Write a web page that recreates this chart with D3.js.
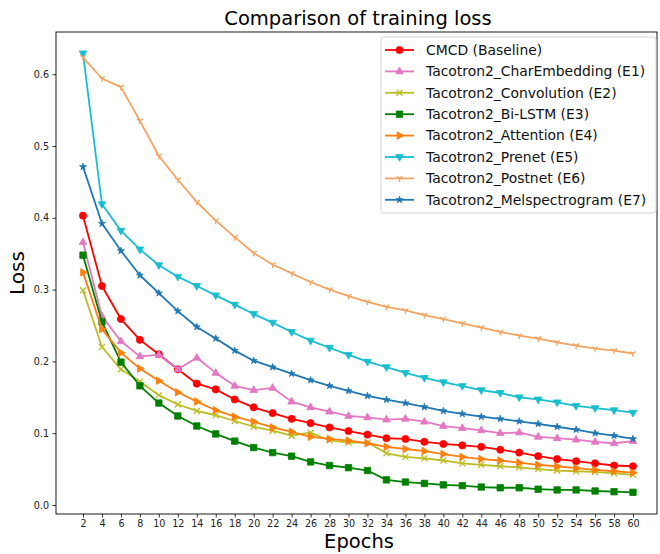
<!DOCTYPE html>
<html><head><meta charset="utf-8">
<script src="https://cdn.jsdelivr.net/npm/d3@7"></script>
<style>body{margin:0;background:#fff;}svg{display:block;font-family:"DejaVu Sans",sans-serif;}</style>
</head><body>
<svg id="c" width="660" height="554"></svg>
<script>
const epochs = d3.range(2, 61, 2);
const xTicks = epochs;
const yTicks = [0.0, 0.1, 0.2, 0.3, 0.4, 0.5, 0.6];

const cmcd = [0.403,0.305,0.259,0.230,0.210,0.189,0.169,0.161,0.147,0.136,0.128,0.120,0.114,0.108,0.103,0.098,0.093,0.092,0.088,0.085,0.083,0.081,0.077,0.073,0.068,0.064,0.061,0.058,0.055,0.054];
const charEmb = [0.366,0.263,0.228,0.207,0.209,0.189,0.205,0.184,0.166,0.160,0.163,0.144,0.136,0.130,0.124,0.122,0.119,0.120,0.116,0.110,0.107,0.104,0.100,0.101,0.095,0.093,0.091,0.088,0.086,0.089];
const conv = [0.299,0.220,0.189,0.172,0.153,0.140,0.131,0.125,0.117,0.109,0.1035,0.0965,0.1007,0.090,0.087,0.087,0.072,0.067,0.065,0.062,0.058,0.056,0.054,0.0525,0.050,0.048,0.047,0.046,0.044,0.042];
const biLstm = [0.348,0.255,0.199,0.166,0.142,0.124,0.110,0.099,0.089,0.080,0.073,0.068,0.060,0.055,0.052,0.048,0.035,0.032,0.030,0.028,0.027,0.025,0.024,0.024,0.022,0.021,0.021,0.0195,0.0185,0.0177];
const attention = [0.324,0.245,0.212,0.190,0.173,0.157,0.144,0.132,0.123,0.116,0.108,0.102,0.095,0.092,0.0896,0.086,0.081,0.078,0.075,0.071,0.067,0.064,0.062,0.059,0.056,0.054,0.0515,0.049,0.047,0.045];
const prenet = [0.629,0.419,0.382,0.356,0.334,0.318,0.305,0.292,0.279,0.266,0.254,0.241,0.229,0.219,0.209,0.1996,0.192,0.184,0.177,0.171,0.1657,0.160,0.156,0.150,0.147,0.143,0.138,0.135,0.132,0.1286];
const postnet = [0.6235,0.594,0.582,0.535,0.486,0.453,0.422,0.396,0.373,0.351,0.335,0.3226,0.3106,0.300,0.291,0.283,0.276,0.271,0.2646,0.259,0.253,0.247,0.241,0.236,0.2317,0.2266,0.222,0.2177,0.215,0.211];
const melspec = [0.471,0.392,0.354,0.320,0.295,0.270,0.248,0.232,0.215,0.201,0.192,0.183,0.174,0.166,0.159,0.152,0.1467,0.142,0.1365,0.131,0.127,0.123,0.120,0.1166,0.113,0.109,0.105,0.100,0.0965,0.092];

const seriesNames = ["CMCD (Baseline)","Tacotron2_CharEmbedding (E1)","Tacotron2_Convolution (E2)","Tacotron2_Bi-LSTM (E3)","Tacotron2_Attention (E4)","Tacotron2_Prenet (E5)","Tacotron2_Postnet (E6)","Tacotron2_Melspectrogram (E7)"];
const seriesValues = [cmcd, charEmb, conv, biLstm, attention, prenet, postnet, melspec];
const seriesColors = ["#ff0000","#e377c2","#bcbd22","#008000","#ff7f0e","#17becf","#f4a460","#1f77b4"];
const seriesMarkers = ["circle","triUp","x","square","triRight","triDown","tri","star"];

const svg = d3.select("#c");
const frame = {l:56, t:32, r:657, b:514};
const x = d3.scaleLinear().domain([2, 60]).range([83, 633]);
const y = d3.scaleLinear().domain([0, 0.6]).range([505, 74.2]);

svg.append("rect").attr("width",660).attr("height",554).attr("fill","#fff");

function markerPath(type) {
  switch(type) {
    case "circle": return d3.symbol(d3.symbolCircle, 40)();
    case "square": return "M-3.2,-3.2H3.2V3.2H-3.2Z";
    case "triUp": return "M0,-4.3L3.8,2.4L-3.8,2.4Z";
    case "triDown": return "M0,4.3L3.8,-2.4L-3.8,-2.4Z";
    case "triRight": return "M4.3,0L-2.4,3.8L-2.4,-3.8Z";
    case "star": return d3.symbol(d3.symbolStar, 15)();
    case "x": return "M-3,-3L3,3M-3,3L3,-3";
    case "tri": return "M0,0V3.5M0,0L-3,-2M0,0L3,-2";
  }
}
function isStroke(type){ return type==="x" || type==="tri"; }

const plot = svg.append("g");
const line = d3.line().x((d,i)=>x(epochs[i])).y(d=>y(d));

seriesValues.forEach((vals, k) => {
  const g = plot.append("g");
  g.append("path").attr("d", line(vals)).attr("fill","none")
    .attr("stroke", seriesColors[k]).attr("stroke-width",1.8).attr("stroke-linejoin","round");
  const m = markerPath(seriesMarkers[k]);
  g.selectAll("path.m").data(vals).join("path").attr("class","m")
    .attr("d", m)
    .attr("transform",(d,i)=>`translate(${x(epochs[i])},${y(d)})`)
    .attr("fill", isStroke(seriesMarkers[k]) ? "none" : seriesColors[k])
    .attr("stroke", seriesColors[k])
    .attr("stroke-width", isStroke(seriesMarkers[k]) ? 1.3 : 0.8);
});

// frame
svg.append("rect").attr("x",frame.l).attr("y",frame.t).attr("width",frame.r-frame.l).attr("height",frame.b-frame.t)
  .attr("fill","none").attr("stroke","#000").attr("stroke-width",0.9);

// axes
const xAxis = d3.axisBottom(x).tickValues(xTicks).tickSize(3.5).tickPadding(3).tickFormat(d3.format("d"));
const gx = svg.append("g").attr("transform",`translate(0,${frame.b})`).call(xAxis);
gx.select(".domain").remove();
gx.selectAll("text").attr("font-size",9.6).attr("font-family","DejaVu Sans").attr("fill","#222");
gx.selectAll("line").attr("stroke","#000").attr("stroke-width",0.8);

const yAxis = d3.axisLeft(y).tickValues(yTicks).tickSize(3.5).tickPadding(3.5).tickFormat(d3.format(".1f"));
const gy = svg.append("g").attr("transform",`translate(${frame.l},0)`).call(yAxis);
gy.select(".domain").remove();
gy.selectAll("text").attr("font-size",9.6).attr("font-family","DejaVu Sans").attr("fill","#222");
gy.selectAll("line").attr("stroke","#000").attr("stroke-width",0.8);

// labels
svg.append("text").attr("x",358).attr("y",25).attr("text-anchor","middle")
  .attr("font-size",19.5).text("Comparison of training loss");
svg.append("text").attr("x",359).attr("y",548).attr("text-anchor","middle")
  .attr("font-size",19.5).text("Epochs");
svg.append("text").attr("transform","translate(24,273) rotate(-90)").attr("text-anchor","middle")
  .attr("font-size",20).text("Loss");

// legend
const lg = svg.append("g");
lg.append("rect").attr("x",381).attr("y",37).attr("width",275).attr("height",176).attr("rx",3)
  .attr("fill","#fff").attr("fill-opacity",0.85).attr("stroke","#d0d0d0").attr("stroke-width",0.9);
seriesNames.forEach((name,k)=>{
  const yy = 50 + k*21.4;
  lg.append("line").attr("x1",385).attr("x2",414).attr("y1",yy).attr("y2",yy)
    .attr("stroke",seriesColors[k]).attr("stroke-width",1.8);
  lg.append("path").attr("d",markerPath(seriesMarkers[k])).attr("transform",`translate(399.5,${yy})`)
    .attr("fill", isStroke(seriesMarkers[k]) ? "none" : seriesColors[k])
    .attr("stroke", seriesColors[k]).attr("stroke-width", isStroke(seriesMarkers[k]) ? 1.3 : 0.8);
  lg.append("text").attr("x",426).attr("y",yy+4.8).attr("font-size",13.9).attr("fill","#111").text(name);
});
</script>
</body></html>
